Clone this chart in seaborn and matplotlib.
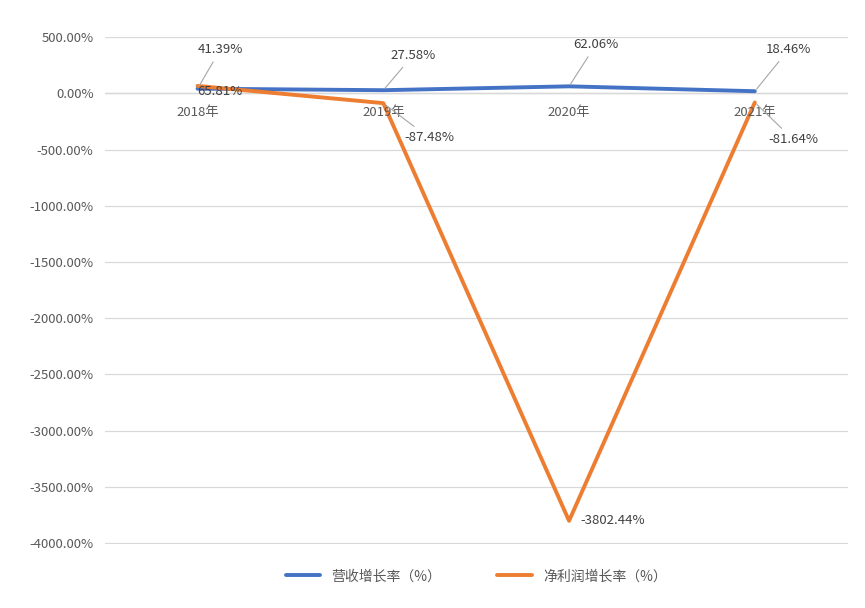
import matplotlib
matplotlib.use("Agg")
import matplotlib.pyplot as plt
import seaborn as sns
import pandas as pd

years = ["2018年", "2019年", "2020年", "2021年"]
revenue_growth = [41.39, 27.58, 62.06, 18.46]
profit_growth = [65.81, -87.48, -3802.44, -81.64]
series_names = ["营收增长率（%）", "净利润增长率（%）"]
yticks = [500, 0, -500, -1000, -1500, -2000, -2500, -3000, -3500, -4000]

sns.set_style("white")
plt.rcParams['font.family'] = ['Noto Sans CJK SC', 'DejaVu Sans']

df = pd.DataFrame({"year": years * 2,
                   "value": revenue_growth + profit_growth,
                   "series": [series_names[0]] * 4 + [series_names[1]] * 4})
df["x"] = list(range(4)) * 2

fig = plt.figure(figsize=(8.65, 6.08), dpi=100)
ax = fig.add_axes([0.121, 0.105, 0.859, 0.834])
sns.lineplot(data=df, x="x", y="value", hue="series",
             palette=["#4472C4", "#ED7D31"], linewidth=2.8, ax=ax, legend=True)

ax.set_xlim(-0.5, 3.5)
ax.set_ylim(-4010, 500)
ax.set_yticks(yticks)
ax.set_yticklabels([f"{v:.2f}%" for v in yticks], fontsize=9.5, color="#595959")
ax.set_xticks([])
ax.set_xlabel("")
ax.set_ylabel("")
ax.grid(axis="y", color="#D9D9D9", linewidth=0.9)
ax.tick_params(axis="y", length=0, pad=8)
for s in ax.spines.values():
    s.set_visible(False)
ax.axhline(0, color="#BFBFBF", linewidth=0.9, zorder=0)

for i, y in enumerate(years):
    ax.text(i, -110, y, ha="center", va="top", fontsize=9.5, color="#595959")

lab = dict(fontsize=9.5, color="#404040")
arrow = dict(arrowstyle="-", color="#A6A6A6", lw=0.8)
rev_off = [(0, 28), (5, 25), (3, 30), (8, 30)]
for i, v in enumerate(revenue_growth):
    ax.annotate(f"{v:.2f}%", (i, v), xytext=rev_off[i], textcoords="offset points",
                ha="left", va="center", arrowprops=arrow, **lab)
prof_off = [(0, -4), (15, -25), (8, 0), (10, -27)]
for i, v in enumerate(profit_growth):
    ax.annotate(f"{v:.2f}%", (i, v), xytext=prof_off[i], textcoords="offset points",
                ha="left", va="center",
                arrowprops=arrow if i in (1, 3) else None, **lab)

ax.legend(handles=ax.get_legend_handles_labels()[0], labels=series_names,
          loc="upper center", bbox_to_anchor=(0.5, -0.025), ncol=2, frameon=False,
          fontsize=10, handlelength=2.5, columnspacing=4, labelcolor="#595959")

fig.savefig("out.png", dpi=100, facecolor="white")
